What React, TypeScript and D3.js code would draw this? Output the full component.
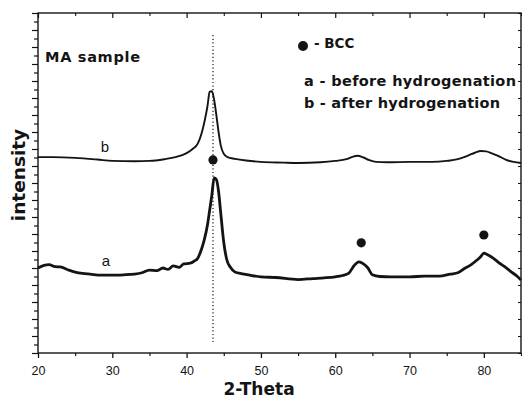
import * as d3 from 'd3';
import React, { useEffect, useRef } from 'react';

// 2-Theta positions and intensities (arbitrary units, 0-100)
const thetaA = [20, 20.8, 21.5, 22.3, 23, 24, 25, 26, 27, 28.5, 30, 31.5, 33, 34, 35, 36, 36.8, 37.5, 38.2, 39, 39.6, 40.5, 41, 41.5, 42, 42.4, 42.8, 43.1, 43.4, 43.7, 44, 44.3, 44.6, 45, 45.4, 45.9, 46.5, 47.5, 48.5, 50, 52, 55, 57, 58.5, 60, 61, 61.8, 62.5, 63.2, 63.8, 64.4, 65, 66, 67.5, 70, 72, 74, 75.5, 76.5, 77.5, 78.3, 79, 79.6, 80, 80.5, 81.2, 82, 82.8, 83.6, 84.3, 85];
const intensityA = [25.0, 25.8, 26.0, 25.4, 25.3, 24.5, 23.8, 23.4, 23.2, 22.9, 22.9, 23.0, 23.2, 23.6, 24.4, 24.2, 25.0, 24.6, 25.6, 25.2, 26.2, 26.4, 27.0, 27.9, 30.5, 33.5, 37.6, 42.0, 46.5, 51.5, 51.0, 47.5, 41.0, 32.5, 27.5, 25.2, 23.8, 23.3, 22.9, 22.4, 22.2, 21.6, 21.9, 22.1, 22.4, 22.8, 23.4, 25.6, 26.8, 26.2, 25.0, 23.0, 22.5, 22.4, 22.4, 22.6, 22.6, 23.2, 23.6, 25.0, 26.0, 27.2, 28.4, 29.4, 28.9, 28.0, 26.6, 25.4, 24.0, 22.9, 21.5];

const thetaB = [20, 22, 25, 28, 30, 33, 35, 37, 38.5, 40, 40.8, 41.5, 42, 42.4, 42.8, 43.1, 43.4, 43.7, 44, 44.3, 44.6, 45, 45.5, 46.5, 48, 50, 53, 55, 58, 60, 61.5, 62.3, 63, 63.8, 64.6, 65.5, 67, 70, 73, 75, 76.5, 77.8, 78.8, 79.6, 80.3, 81, 82, 83, 84, 85];
const intensityB = [57.6, 57.6, 57.4, 56.9, 56.5, 56.4, 56.5, 57.0, 57.6, 58.8, 60.0, 61.6, 64.5, 68.0, 72.5, 76.8, 77.0, 74.5, 70.0, 65.0, 61.0, 58.6, 57.6, 57.1, 56.6, 56.2, 56.0, 55.9, 56.1, 56.5, 57.0, 57.7, 58.0, 57.5, 56.7, 56.2, 56.1, 56.2, 56.2, 56.5, 57.0, 58.0, 58.9, 59.4, 59.3, 58.8, 57.9, 56.8, 56.2, 55.9];

// BCC reflections marked with dots: [2-Theta, height]
const bccTheta = [43.55, 63.5, 80.0];
const bccHeight = [56.8, 32.4, 34.7];

const xMajorTicks = [20, 30, 40, 50, 60, 70, 80];
const xMinorTicks = [25, 35, 45, 55, 65, 75, 85];
const refLineTheta = 43.55;
const refLineRange = [3.2, 93.5];

const FONT = "'Liberation Sans', Arial, sans-serif";
const BOLD = "'DejaVu Sans', Verdana, sans-serif";

const App = () => {
  const ref = useRef(null);

  useEffect(() => {
    const svg = d3.select(ref.current);
    svg.selectAll('*').remove();

    const left = 38, right = 521, top = 13, bottom = 353;
    const x = d3.scaleLinear().domain([20, 85]).range([left, right]);
    const y = d3.scaleLinear().domain([0, 100]).range([bottom, top]);
    const ink = '#141414';

    const yTicks = d3.range(0, 100.1, 2.5);

    // frame
    svg.append('rect')
      .attr('x', left).attr('y', top)
      .attr('width', right - left).attr('height', bottom - top)
      .attr('fill', 'none').attr('stroke', ink).attr('stroke-width', 1.4);

    // bottom axis
    const bx = svg.append('g').attr('transform', `translate(0,${bottom})`)
      .call(d3.axisBottom(x).tickValues(xMajorTicks).tickSize(5).tickFormat(d3.format('d')));
    bx.select('.domain').remove();
    bx.selectAll('line').attr('stroke', ink).attr('stroke-width', 1.3);
    bx.selectAll('text').attr('font-family', FONT).attr('font-size', 12.5).attr('fill', ink)
      .attr('y', 22).attr('dy', 0);
    const bxm = svg.append('g').attr('transform', `translate(0,${bottom})`)
      .call(d3.axisBottom(x).tickValues(xMinorTicks).tickSize(3).tickFormat(() => ''));
    bxm.select('.domain').remove();
    bxm.selectAll('line').attr('stroke', ink).attr('stroke-width', 1.2);

    // top axis, ticks inward
    const tx = svg.append('g').attr('transform', `translate(0,${top})`)
      .call(d3.axisTop(x).tickValues(xMajorTicks).tickSize(-5).tickFormat(() => ''));
    tx.select('.domain').remove();
    tx.selectAll('line').attr('stroke', ink).attr('stroke-width', 1.2);
    const txm = svg.append('g').attr('transform', `translate(0,${top})`)
      .call(d3.axisTop(x).tickValues(xMinorTicks).tickSize(-3).tickFormat(() => ''));
    txm.select('.domain').remove();
    txm.selectAll('line').attr('stroke', ink).attr('stroke-width', 1.1);

    // left axis, ticks outward
    const ly = svg.append('g').attr('transform', `translate(${left},0)`)
      .call(d3.axisLeft(y).tickValues(yTicks).tickSize(5).tickFormat(() => ''));
    ly.select('.domain').remove();
    ly.selectAll('line').attr('stroke', ink).attr('stroke-width', 1.2)
      .attr('x2', (d) => ((d * 2) % 10 === 0 ? -6 : -4));

    // right axis, small inward ticks
    const ry = svg.append('g').attr('transform', `translate(${right},0)`)
      .call(d3.axisRight(y).tickValues(d3.range(0, 100.1, 5)).tickSize(-3).tickFormat(() => ''));
    ry.select('.domain').remove();
    ry.selectAll('line').attr('stroke', ink).attr('stroke-width', 1);

    // dotted reference line
    svg.append('line')
      .attr('x1', x(refLineTheta)).attr('x2', x(refLineTheta))
      .attr('y1', y(refLineRange[1])).attr('y2', y(refLineRange[0]))
      .attr('stroke', ink).attr('stroke-width', 1.2)
      .attr('stroke-dasharray', '1.2,2.4');

    const line = d3.line().x((d) => x(d[0])).y((d) => y(d[1])).curve(d3.curveMonotoneX);

    svg.append('path')
      .datum(thetaA.map((t, i) => [t, intensityA[i]]))
      .attr('d', line)
      .attr('fill', 'none').attr('stroke', ink).attr('stroke-width', 2.8)
      .attr('stroke-linejoin', 'round');

    svg.append('path')
      .datum(thetaB.map((t, i) => [t, intensityB[i]]))
      .attr('d', line)
      .attr('fill', 'none').attr('stroke', ink).attr('stroke-width', 1.9)
      .attr('stroke-linejoin', 'round');

    svg.selectAll('circle.bcc')
      .data(bccTheta.map((t, i) => [t, bccHeight[i]]))
      .enter().append('circle')
      .attr('class', 'bcc')
      .attr('cx', (d) => x(d[0])).attr('cy', (d) => y(d[1]))
      .attr('r', 4.6).attr('fill', ink);

    // curve labels
    svg.append('text').attr('x', 105).attr('y', 152)
      .attr('text-anchor', 'middle').attr('font-family', FONT).attr('font-size', 15)
      .attr('fill', ink).text('b');
    svg.append('text').attr('x', 106).attr('y', 266)
      .attr('text-anchor', 'middle').attr('font-family', FONT).attr('font-size', 15)
      .attr('fill', ink).text('a');

    // annotations
    svg.append('text').attr('x', 45).attr('y', 62)
      .attr('font-family', BOLD).attr('font-size', 14.5).attr('font-weight', 'bold')
      .attr('textLength', 95).attr('lengthAdjust', 'spacing')
      .attr('fill', ink).text('MA sample');

    svg.append('circle').attr('cx', 303).attr('cy', 46).attr('r', 5).attr('fill', ink);
    svg.append('text').attr('x', 314).attr('y', 48)
      .attr('font-family', BOLD).attr('font-size', 13.5).attr('font-weight', 'bold')
      .attr('fill', ink).text('- BCC');

    svg.append('text').attr('x', 304).attr('y', 86)
      .attr('font-family', BOLD).attr('font-size', 14.5).attr('font-weight', 'bold')
      .attr('textLength', 212).attr('lengthAdjust', 'spacing')
      .attr('fill', ink).text('a - before hydrogenation');
    svg.append('text').attr('x', 304).attr('y', 108)
      .attr('font-family', BOLD).attr('font-size', 14.5).attr('font-weight', 'bold')
      .attr('textLength', 196).attr('lengthAdjust', 'spacing')
      .attr('fill', ink).text('b - after hydrogenation');

    // axis titles
    svg.append('text').attr('x', 259).attr('y', 395)
      .attr('text-anchor', 'middle').attr('font-family', BOLD)
      .attr('font-size', 17).attr('font-weight', 'bold').attr('fill', ink)
      .text('2-Theta');
    svg.append('text')
      .attr('transform', `translate(25,175) rotate(-90)`)
      .attr('text-anchor', 'middle').attr('font-family', BOLD)
      .attr('font-size', 18.5).attr('font-weight', 'bold').attr('fill', ink)
      .text('intensity');
  }, []);

  return (
    <svg ref={ref} width={522} height={398}
      style={{ position: 'absolute', left: 0, top: 0, background: '#fff' }} />
  );
};

export default App;
